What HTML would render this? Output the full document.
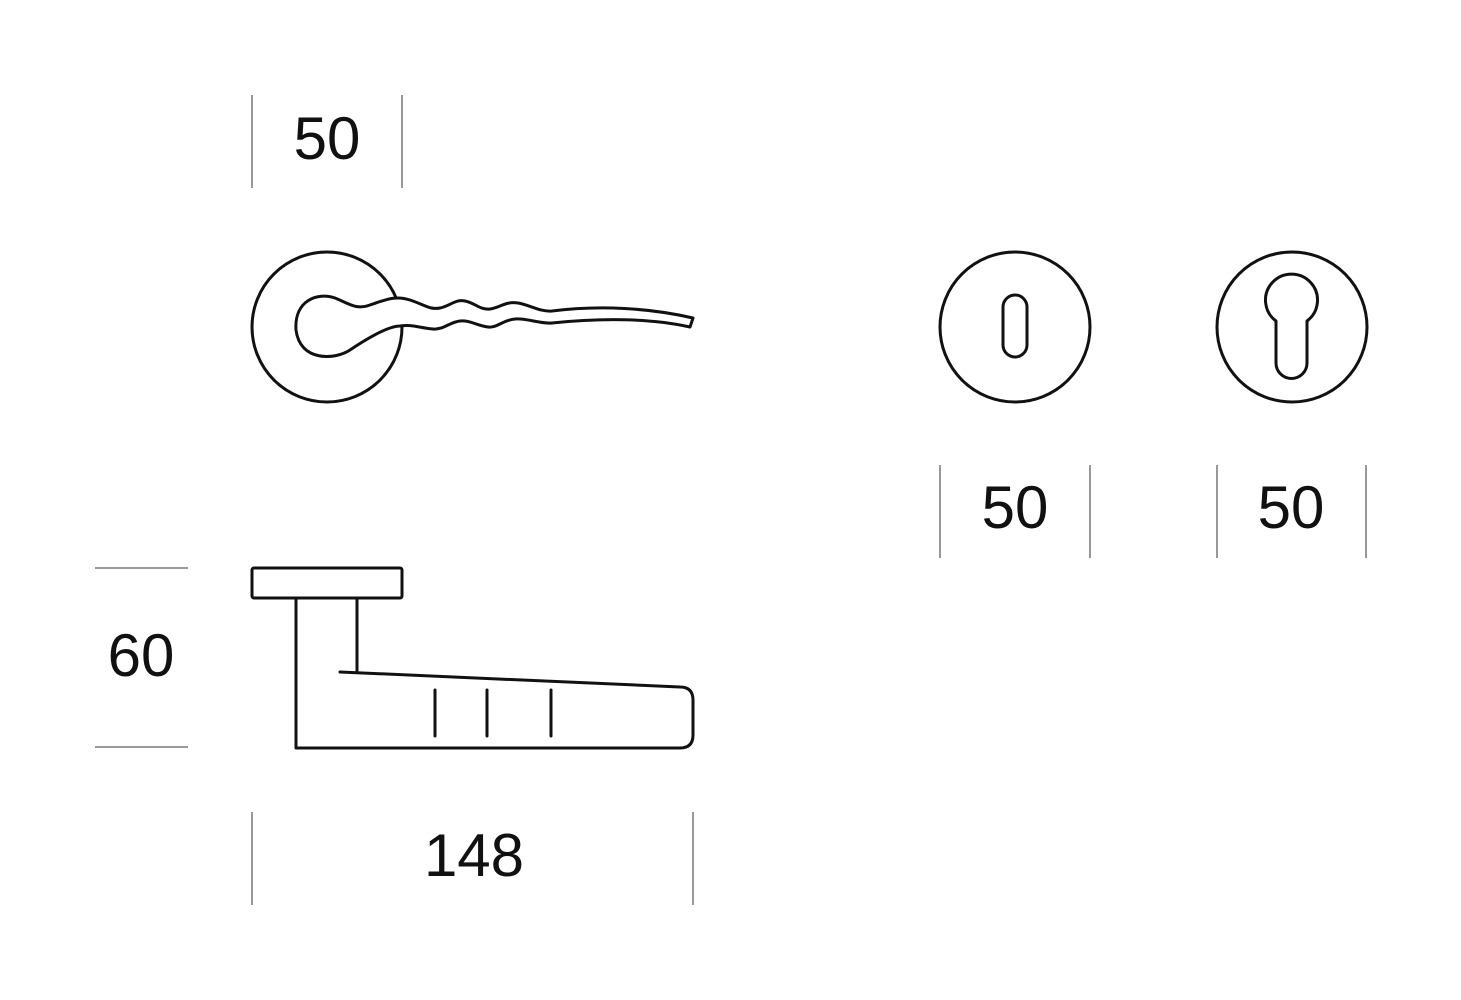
<!DOCTYPE html>
<html><head><style>
html,body{margin:0;padding:0;background:#fff;}
svg{display:block;}
text{font-family:"Liberation Sans",Arial,sans-serif;font-size:60px;fill:#111;}
</style></head><body>
<svg width="1461" height="1000" viewBox="0 0 1461 1000" xmlns="http://www.w3.org/2000/svg">
<g stroke="#333" stroke-width="1" fill="none">
<line x1="252" y1="95" x2="252" y2="188"/><line x1="402" y1="95" x2="402" y2="188"/>
<line x1="940" y1="465" x2="940" y2="558"/><line x1="1090" y1="465" x2="1090" y2="558"/>
<line x1="1217" y1="465" x2="1217" y2="558"/><line x1="1366" y1="465" x2="1366" y2="558"/>
<line x1="95" y1="568" x2="188" y2="568"/><line x1="95" y1="747" x2="188" y2="747"/>
<line x1="252" y1="812" x2="252" y2="905"/><line x1="693" y1="812" x2="693" y2="905"/>
</g>
<g text-anchor="middle">
<text x="327" y="159">50</text>
<text x="1015" y="528">50</text>
<text x="1291" y="528">50</text>
<text x="141" y="676">60</text>
<text x="474" y="876">148</text>
</g>
<g stroke="#111" stroke-width="3" fill="none" stroke-linejoin="round" stroke-linecap="round">
<circle cx="327" cy="327" r="75"/>
<path d="M400,326 C388,326 365,340 350,350 C335,360 300,362 296,330 C294,300 318,292 335,298 C350,304 356,310 370,305 C385,300 395,295 410,300 C425,305 430,310 440,308 C450,306 455,299 465,301 C475,303 480,310 490,309 C500,308 505,301 518,303 C530,305 540,312 552,311 C600,305 650,308 693,318 L690,327 C650,318 600,318 552,323 C540,324 527,318 515,319 C503,320 497,328 488,327 C478,326 470,320 460,321 C450,322 443,330 433,329 C420,328 412,324 400,326 Z" fill="#fff"/>
<circle cx="1015" cy="327" r="75"/>
<rect x="1003" y="295" width="24" height="62" rx="12"/>
<circle cx="1292" cy="327" r="75"/>
<path d="M1276,321 A26,26 0 1 1 1307,321 L1307,363 A15.5,15.5 0 0 1 1276,363 Z"/>
<rect x="252" y="568" width="150" height="30" rx="2"/>
<path d="M296,598 L296,748 L680,748 Q693,748 693,735 L693,700 Q693,687 680,687 L340,672"/>
<line x1="357" y1="598" x2="357" y2="672"/>
<line x1="435" y1="690" x2="435" y2="736"/>
<line x1="487" y1="690" x2="487" y2="736"/>
<line x1="551" y1="690" x2="551" y2="736"/>
</g>
</svg>
</body></html>
